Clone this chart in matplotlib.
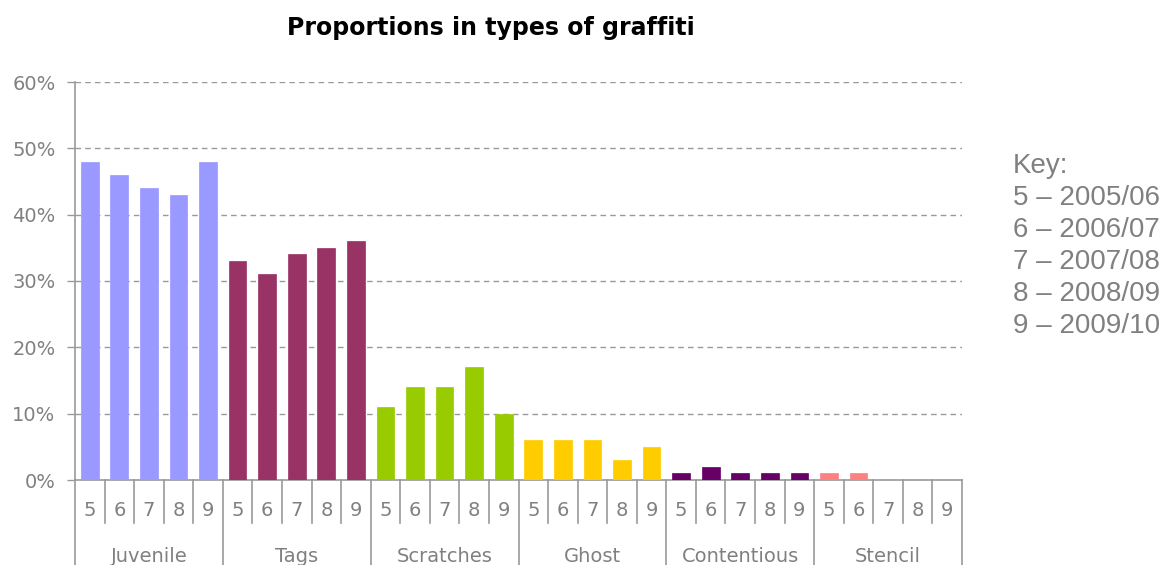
import matplotlib
matplotlib.use("Agg")
import matplotlib.pyplot as plt
import matplotlib.transforms as mtransforms
import numpy as np

groups = ["Juvenile", "Tags", "Scratches", "Ghost", "Contentious", "Stencil"]
years = ["5", "6", "7", "8", "9"]
juvenile = [48, 46, 44, 43, 48]
tags = [33, 31, 34, 35, 36]
scratches = [11, 14, 14, 17, 10]
ghost = [6, 6, 6, 3, 5]
contentious = [1, 2, 1, 1, 1]
stencil = [1, 1, 0, 0, 0]
colours = ["#9999ff", "#993366", "#99cc00", "#ffcc00", "#660066", "#ff8080"]
key_lines = ["Key:", "5 \u2013 2005/06", "6 \u2013 2006/07", "7 \u2013 2007/08",
             "8 \u2013 2008/09", "9 \u2013 2009/10"]

series = [juvenile, tags, scratches, ghost, contentious, stencil]
grey = "#999999"
txt = "#808080"

fig = plt.figure(figsize=(11.7, 5.65), dpi=100)
ax = fig.add_axes([75/1170, 1 - 480/565, 887/1170, 398/565])

n = len(years)
for g, (vals, col) in enumerate(zip(series, colours)):
    x = np.arange(n) + g*n
    ax.bar(x, vals, width=0.6, color=col, edgecolor=col, linewidth=0.5, zorder=3)

ax.set_xlim(-0.5, len(groups)*n - 0.5)
ax.set_ylim(0, 60)
ax.set_yticks(range(0, 61, 10))
ax.set_yticklabels(["%d%%" % v for v in range(0, 61, 10)])
ax.tick_params(axis="y", colors=grey, labelcolor=txt, labelsize=14, length=6,
               width=1, pad=8)
ax.set_xticks([])

for v in range(10, 61, 10):
    ax.axhline(v, color=grey, linewidth=1, linestyle=(0, (4, 3)), zorder=1)

for s in ["top", "right"]:
    ax.spines[s].set_visible(False)
ax.spines["left"].set_color(grey)
ax.spines["bottom"].set_color(grey)
ax.spines["left"].set_linewidth(1.2)
ax.spines["bottom"].set_linewidth(1.2)

trans = mtransforms.blended_transform_factory(ax.transData, ax.transAxes)
short = 43/398
long_ = 85/398
total = len(groups)*n
for i in range(total + 1):
    xb = i - 0.5
    depth = long_ if i % n == 0 else short
    ax.plot([xb, xb], [0, -depth], color=grey, linewidth=1.2, transform=trans,
            clip_on=False)

for g, name in enumerate(groups):
    for j, yr in enumerate(years):
        ax.text(g*n + j, -30/398, yr, transform=trans, ha="center", va="center",
                fontsize=14, color=txt)
    ax.text(g*n + (n - 1)/2, -76/398, name, transform=trans, ha="center",
            va="center", fontsize=14, color=txt)

fig.text(491/1170, 1 - 28/565, "Proportions in types of graffiti", ha="center",
         va="center", fontsize=17, fontweight="bold", family="DejaVu Sans")

for k, line in enumerate(key_lines):
    fig.text(1013/1170, 1 - (166 + 32*k)/565, line, ha="left", va="center",
             fontsize=20, color=txt, family="Liberation Sans")

fig.savefig("out.png", dpi=100)
